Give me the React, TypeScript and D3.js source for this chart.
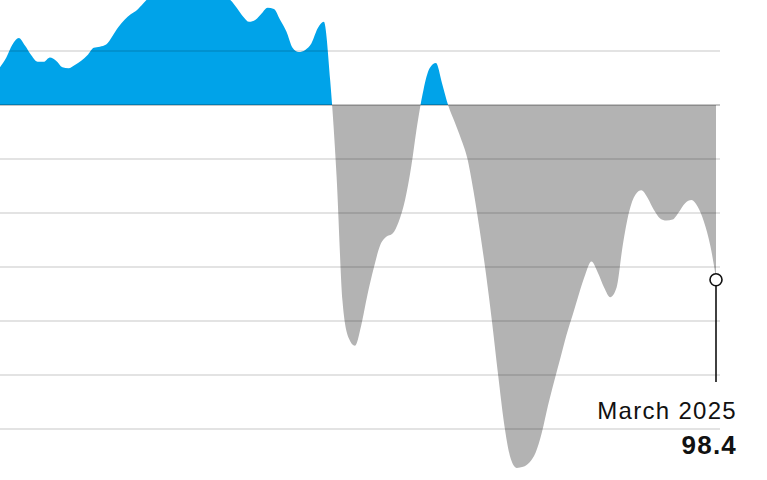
import React from "react";
import * as d3 from "d3";

// Monthly index values, Aug 2015 – Mar 2025
const startMonth = "2015-08";
const endMonth = "2025-03";
const values: number[] = [
  100.35, 100.44, 100.56, 100.62, 100.55, 100.46, 100.40, 100.40, 100.44, 100.41,
  100.35, 100.34, 100.37, 100.41, 100.46, 100.53, 100.54, 100.56, 100.64, 100.72,
  100.79, 100.84, 100.88, 100.94, 101.00, 101.04, 101.06, 101.10, 101.12, 101.14,
  101.15, 101.14, 101.12, 101.10, 101.06, 101.03, 101.00, 100.97, 100.90, 100.82,
  100.77, 100.79, 100.85, 100.90, 100.89, 100.79, 100.68, 100.53, 100.49, 100.51,
  100.57, 100.71, 100.77, 100.23, 99.35, 98.19, 97.84, 97.77, 97.96, 98.24,
  98.49, 98.70, 98.78, 98.81, 98.92, 99.12, 99.44, 99.81, 100.14, 100.34,
  100.39, 100.20, 99.99, 99.84, 99.69, 99.51, 99.21, 98.84, 98.43, 98.01,
  97.50, 97.04, 96.73, 96.64, 96.65, 96.69, 96.78, 96.97, 97.22, 97.45,
  97.67, 97.87, 98.06, 98.25, 98.43, 98.55, 98.45, 98.31, 98.22, 98.31,
  98.70, 99.01, 99.17, 99.21, 99.14, 99.03, 98.95, 98.93, 98.94, 99.01,
  99.09, 99.12, 99.06, 98.92, 98.70, 98.40,
];
const gridValues = [100.5, 100, 99.5, 99, 98.5, 98, 97.5, 97];
const baselineValue = 100;
const lastLabel = "March 2025";
const lastValueLabel = "98.4";

const W = 767;
const H = 480;

export default function App() {
  const parse = d3.timeParse("%Y-%m");
  const start = parse(startMonth)!;
  const end = parse(endMonth)!;
  const data = values.map((v, i) => ({ date: d3.timeMonth.offset(start, i), v }));

  const x = d3.scaleTime().domain([start, end]).range([0, 716]);
  const y = d3.scaleLinear().domain([100, 97]).range([105, 429]);

  const area = d3
    .area<{ date: Date; v: number }>()
    .x((d) => x(d.date))
    .y0(y(baselineValue))
    .y1((d) => y(d.v))
    .curve(d3.curveMonotoneX);
  const path = area(data) || "";

  const last = data[data.length - 1];
  const lx = x(last.date);
  const ly = y(last.v);

  return (
    <svg
      width={W}
      height={H}
      style={{ position: "absolute", left: 0, top: 0, display: "block", background: "#fff" }}
    >
      <defs>
        <clipPath id="above">
          <rect x={0} y={-200} width={W} height={y(baselineValue) + 200} />
        </clipPath>
        <clipPath id="below">
          <rect x={0} y={y(baselineValue)} width={W} height={H} />
        </clipPath>
      </defs>
      <path d={path} fill="#00a3e9" clipPath="url(#above)" />
      <path d={path} fill="#b3b3b3" clipPath="url(#below)" />
      {gridValues.map((g) => (
        <line
          key={g}
          x1={0}
          x2={720}
          y1={y(g)}
          y2={y(g)}
          stroke={g === baselineValue ? "rgba(0,0,0,0.45)" : "rgba(0,0,0,0.22)"}
          strokeWidth={1.2}
        />
      ))}
      <line x1={lx} x2={lx} y1={ly + 6} y2={382} stroke="#111" strokeWidth={1.6} />
      <circle cx={lx} cy={ly + 2} r={6} fill="#fff" stroke="#111" strokeWidth={1.6} />
      <text
        x={737}
        y={419}
        textAnchor="end"
        fontFamily="'Liberation Sans', Arial, sans-serif"
        fontSize={24}
        letterSpacing={1.3}
        fill="#111"
      >
        {lastLabel}
      </text>
      <text
        x={737}
        y={454}
        textAnchor="end"
        fontFamily="'Liberation Sans', Arial, sans-serif"
        fontSize={26}
        fontWeight="bold"
        letterSpacing={1.2}
        fill="#111"
      >
        {lastValueLabel}
      </text>
    </svg>
  );
}
